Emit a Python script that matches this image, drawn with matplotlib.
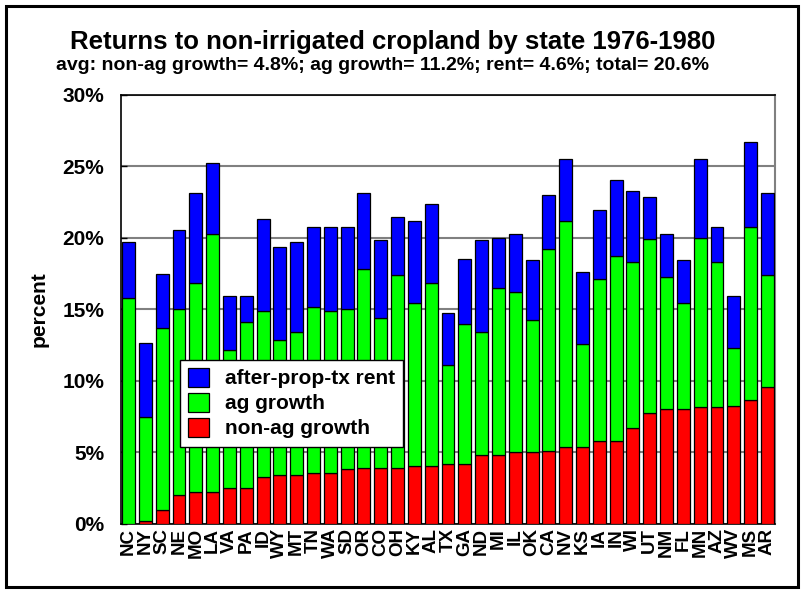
import matplotlib
matplotlib.use("Agg")
import matplotlib.pyplot as plt
from matplotlib.patches import Rectangle
import numpy as np

plt.rcParams['font.family'] = ['Liberation Sans', 'DejaVu Sans']
plt.rcParams['font.weight'] = 'bold'

states = ["NC", "NY", "SC", "NE", "MO", "LA", "VA", "PA", "ID", "WY", "MT", "TN", "WA",
          "SD", "OR", "CO", "OH", "KY", "AL", "TX", "GA", "ND", "MI", "IL", "OK", "CA",
          "NV", "KS", "IA", "IN", "WI", "UT", "NM", "FL", "MN", "AZ", "WV", "MS", "AR"]

non_ag_growth = [0.00, 0.18, 0.95, 2.00, 2.26, 2.26, 2.52, 2.52, 3.31, 3.45, 3.45, 3.57, 3.57,
                 3.83, 3.94, 3.94, 3.94, 4.08, 4.08, 4.22, 4.22, 4.85, 4.85, 5.00, 5.00, 5.11,
                 5.39, 5.39, 5.79, 5.79, 6.72, 7.73, 8.03, 8.03, 8.15, 8.15, 8.27, 8.66, 9.57]

ag_growth = [15.83, 7.29, 12.78, 13.04, 14.62, 18.01, 9.65, 11.61, 11.61, 9.39, 10.00, 11.61, 11.35,
             11.21, 13.88, 10.44, 13.46, 11.36, 12.80, 6.92, 9.79, 8.60, 11.64, 11.23, 9.27, 14.13,
             15.79, 7.17, 11.35, 12.92, 11.59, 12.17, 9.25, 7.41, 11.86, 10.16, 4.04, 12.12, 7.83]

rent = [3.92, 5.21, 3.78, 5.49, 6.27, 4.96, 3.78, 1.82, 6.40, 6.52, 6.30, 5.60, 5.86,
        5.74, 5.33, 5.49, 4.04, 5.74, 5.49, 3.64, 4.55, 6.42, 3.52, 4.04, 4.18, 3.79,
        4.31, 5.09, 4.83, 5.35, 4.98, 2.99, 2.99, 3.01, 5.48, 2.47, 3.64, 5.92, 5.75]

y_ticks = [0, 5, 10, 15, 20, 25, 30]
y_tick_labels = ["0%", "5%", "10%", "15%", "20%", "25%", "30%"]

title = "Returns to non-irrigated cropland by state 1976-1980"
subtitle = "avg: non-ag growth= 4.8%; ag growth= 11.2%; rent= 4.6%; total= 20.6%"

fig = plt.figure(figsize=(8.02, 5.93), dpi=100)
ax = fig.add_axes([0.1509, 0.1164, 0.8154, 0.7234])

x = np.arange(len(states))
na = np.array(non_ag_growth)
ag = np.array(ag_growth)
rt = np.array(rent)
w = 0.77
kw = dict(width=w, edgecolor="black", linewidth=0.9, zorder=3)
b_red = ax.bar(x, na, color="#ff0000", label="non-ag growth", **kw)
b_green = ax.bar(x, ag, bottom=na, color="#00ff00", label="ag growth", **kw)
b_blue = ax.bar(x, rt, bottom=na + ag, color="#0000ff", label="after-prop-tx rent", **kw)

ax.set_xlim(-0.45, len(states) - 0.55)
ax.set_ylim(0, 30)
ax.set_yticks(y_ticks)
ax.set_yticklabels(y_tick_labels, fontsize=15, fontweight="bold")
ax.set_xticks(x)
ax.set_xticklabels(states, rotation=90, fontsize=13.5, fontweight="bold")
ax.tick_params(axis="x", length=0, pad=3)
ax.tick_params(axis="y", direction="in", length=4, width=1, pad=12)
ax.yaxis.grid(True, color="#808080", linewidth=1.5, zorder=0)
ax.set_axisbelow(True)
for side in ["left", "top", "bottom"]:
    ax.spines[side].set_color("black")
    ax.spines[side].set_linewidth(1.2)
ax.spines["right"].set_color("#808080")
ax.spines["right"].set_linewidth(1.5)

ax.set_ylabel("percent", fontsize=15, fontweight="bold", labelpad=10)

leg = ax.legend(handles=[b_blue, b_green, b_red], loc="lower left",
                bbox_to_anchor=(0.09, 0.18), fontsize=15, frameon=True,
                fancybox=False, edgecolor="black", framealpha=1,
                handlelength=1.0, handleheight=1.0, handletextpad=0.75,
                borderpad=0.4, labelspacing=0.22, borderaxespad=0)
leg.get_frame().set_linewidth(1.0)
leg.set_zorder(5)

fig.text(0.49, 0.918, title, ha="center", va="baseline", fontsize=18.5, fontweight="bold")
fig.text(0.477, 0.882, subtitle, ha="center", va="baseline", fontsize=14, fontweight="bold")

fig.patches.append(Rectangle((6 / 802, 6 / 593), 792 / 802, 581 / 593,
                             transform=fig.transFigure, fill=False,
                             edgecolor="black", linewidth=2.2))

fig.savefig("out.png", dpi=100)
